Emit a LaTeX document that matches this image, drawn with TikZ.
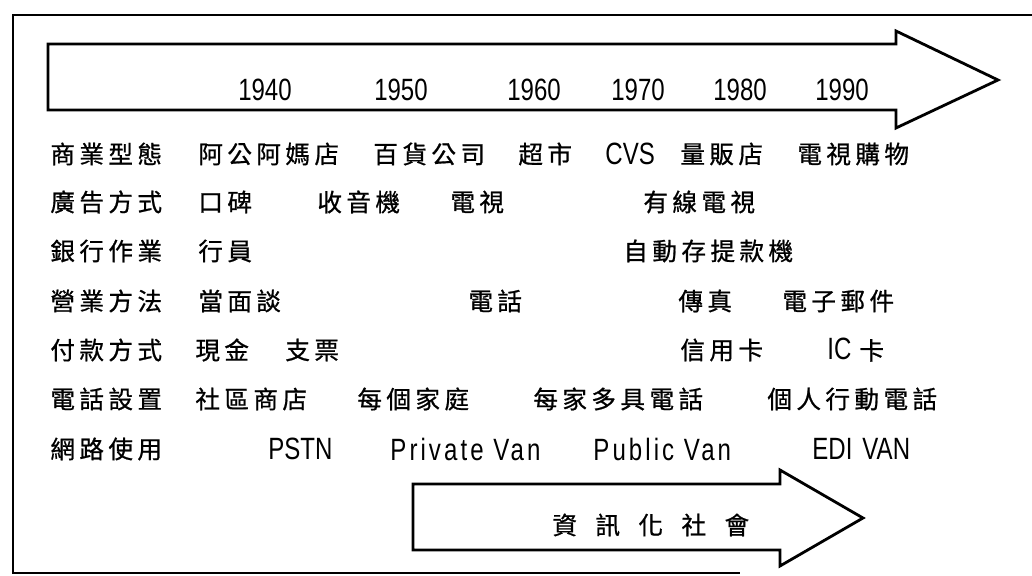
\documentclass[tikz,border=0pt]{standalone}
\usepackage{fontspec}
\setmainfont{Noto Sans CJK TC}[LetterSpace=18,FakeBold=0.8]
\newfontfamily\latin{Liberation Sans}[FakeStretch=0.78]
\newfontfamily\latinsp{Liberation Sans}[FakeStretch=0.78,LetterSpace=10]

\tikzset{
  lbl/.style={anchor=west, inner sep=0pt, font=\fontsize{12.3pt}{14pt}\selectfont},
  lat/.style={anchor=west, inner sep=0pt, font=\fontsize{15.4pt}{17pt}\latin},
  latsp/.style={anchor=west, inner sep=0pt, font=\fontsize{15.4pt}{17pt}\latinsp},
  yr/.style={inner sep=0pt, font=\fontsize{15.4pt}{17pt}\latin},
}

\begin{document}
\begin{tikzpicture}[x=0.5pt, y=-0.5pt]
\useasboundingbox (0,0) rectangle (1032,576);

% frame
\draw[line width=1.2pt] (1032,15) -- (13,15) -- (13,573) -- (740,573);

% time arrow
\draw[line width=1.4pt, line join=miter]
	(48,44) -- (896,44) -- (896,31) -- (998,80) -- (896,128) -- (896,110) -- (48,110) -- cycle;

\node[yr] (y40) at (265,90) {1940};
\node[yr] (y50) at (401,90) {1950};
\node[yr] (y60) at (534,90) {1960};
\node[yr] (y70) at (638,90) {1970};
\node[yr] (y80) at (740,90) {1980};
\node[yr] (y90) at (842,90) {1990};

% rows
\node[lbl] (biz)  at (50,154) {商業型態};
\node[lbl] (biz1) at (198,154) {阿公阿媽店};
\node[lbl] (biz2) at (373,154) {百貨公司};
\node[lbl] (biz3) at (518,154) {超市};
\node[lat] (biz4) at (605,154) {CVS};
\node[lbl] (biz5) at (680,154) {量販店};
\node[lbl] (biz6) at (797,154) {電視購物};

\node[lbl] (ad)  at (50,202) {廣告方式};
\node[lbl] (ad1) at (198,202) {口碑};
\node[lbl] (ad2) at (317,202) {收音機};
\node[lbl] (ad3) at (450,202) {電視};
\node[lbl] (ad4) at (643,202) {有線電視};

\node[lbl] (bank)  at (50,251) {銀行作業};
\node[lbl] (bank1) at (198,251) {行員};
\node[lbl] (bank2) at (623,251) {自動存提款機};

\node[lbl] (sale)  at (50,301) {營業方法};
\node[lbl] (sale1) at (198,301) {當面談};
\node[lbl] (sale2) at (468,301) {電話};
\node[lbl] (sale3) at (678,301) {傳真};
\node[lbl] (sale4) at (782,301) {電子郵件};

\node[lbl] (pay)  at (50,350) {付款方式};
\node[lbl] (pay1) at (195,350) {現金};
\node[lbl] (pay2) at (285,350) {支票};
\node[lbl] (pay3) at (680,350) {信用卡};
\node[lbl] (pay4) at (827,350) {{\fontsize{15.4pt}{17pt}\latin IC}\hspace{4pt}卡};

\node[lbl] (tel)  at (50,399) {電話設置};
\node[lbl] (tel1) at (195,399) {社區商店};
\node[lbl] (tel2) at (357,399) {每個家庭};
\node[lbl] (tel3) at (533,399) {每家多具電話};
\node[lbl] (tel4) at (767,399) {個人行動電話};

\node[lbl]   (net)  at (50,449) {網路使用};
\node[lat]   (net1) at (268,449) {PSTN};
\node[latsp] (net2) at (390,449) {Private Van};
\node[latsp] (net3) at (593,449) {Public Van};
\node[lat]   (net4) at (812,449) {EDI\hspace{5pt}VAN};

% information society arrow
\draw[line width=1.4pt, line join=miter]
	(413,484) -- (780,484) -- (780,470) -- (863,518) -- (780,566) -- (780,550) -- (413,550) -- cycle;
\node[lbl, font=\fontsize{12.3pt}{14pt}\selectfont\addfontfeature{LetterSpace=75}] (info) at (552,525) {資訊化社會};
\end{tikzpicture}
\end{document}
